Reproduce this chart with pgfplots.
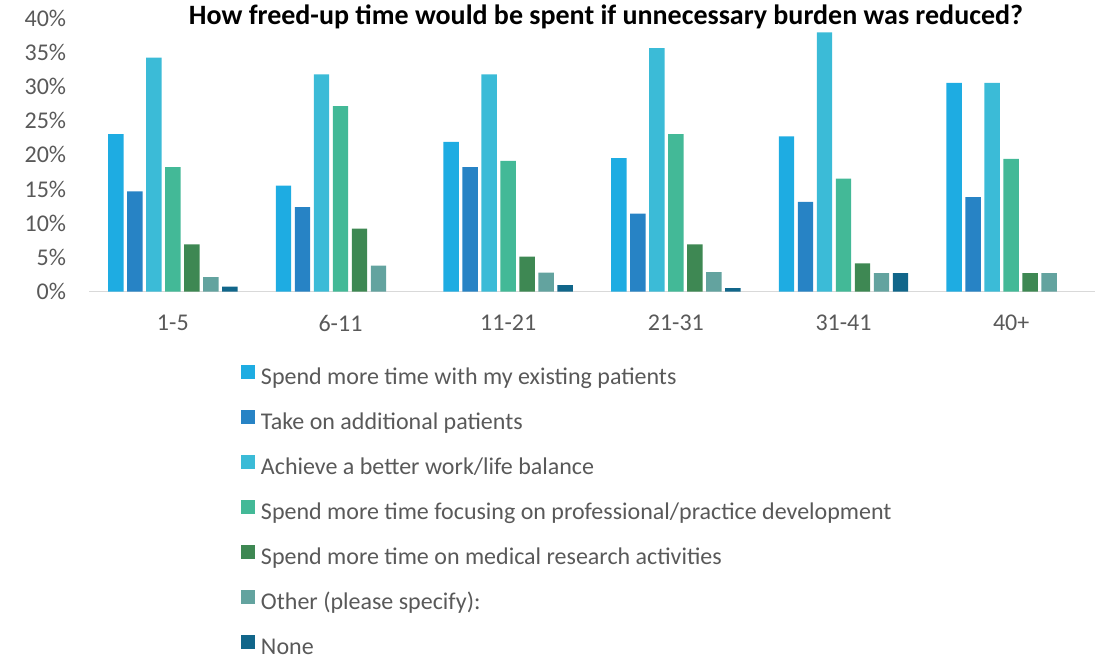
\documentclass[border=0pt]{standalone}
\usepackage{pgfplots}
\pgfplotsset{compat=1.18}
\usepackage{fontspec}
\setmainfont{Carlito}

\definecolor{cExist}{HTML}{1EACE2}
\definecolor{cAdd}{HTML}{2783C5}
\definecolor{cBal}{HTML}{3BBBD7}
\definecolor{cProf}{HTML}{43B997}
\definecolor{cRes}{HTML}{3E8853}
\definecolor{cOther}{HTML}{63A39F}
\definecolor{cNone}{HTML}{11668A}
\definecolor{txtgray}{HTML}{595959}
\definecolor{axgray}{HTML}{D9D9D9}

\begin{document}
\begin{tikzpicture}
% page is 1100 x 654 px at 0.75pt per px
\path[use as bounding box] (0,0) rectangle (825pt,490.5pt);
\node[font=\fontsize{21}{25}\selectfont\bfseries] at (454.5pt,477.75pt)
  {How freed-up time would be spent if unnecessary burden was reduced?};
\begin{axis}[
    at={(66.75pt,271.875pt)}, anchor=south west,
    scale only axis, width=754.5pt, height=205.125pt,
    ybar=2.7pt, bar width=11.55pt,
    xmin=-0.5, xmax=5.5, ymin=0, ymax=40,
    axis x line*=bottom, axis y line*=left,
    x axis line style={draw=axgray, line width=1pt, -},
    y axis line style={draw=none},
    major tick length=0pt,
    xtick=data,
    xticklabels={1-5,6-11,11-21,21-31,31-41,40+},
    ytick={0,5,...,40},
    yticklabels={0\%,5\%,10\%,15\%,20\%,25\%,30\%,35\%,40\%},
    yticklabel style={anchor=east, inner sep=0pt, xshift=-17pt},
    xticklabel style={anchor=north, inner sep=0pt, yshift=-17.5pt},
    tick label style={font=\fontsize{18}{21}\selectfont, text=txtgray},
    every axis plot/.append style={draw=none},
    legend cell align=left,
    legend style={at={(axis description cs:0.1511,-0.2687)}, anchor=north west,
        draw=none, fill=none, inner sep=0pt, outer sep=0pt,
        row sep=16.95pt, column sep=4.5pt,
        font=\fontsize{18}{21}\selectfont, text=txtgray,
        nodes={inner sep=0pt, text height=12.5pt, text depth=2pt}},
    legend image code/.code={\fill[#1] (0pt,-1pt) rectangle (10.5pt,9.5pt);},
]
\addplot[fill=cExist] coordinates {(0,23.0) (1,15.5) (2,21.9) (3,19.5) (4,22.7) (5,30.5)};
\addlegendentry{Spend more time with my existing patients}
\addplot[fill=cAdd] coordinates {(0,14.65) (1,12.35) (2,18.2) (3,11.4) (4,13.1) (5,13.8)};
\addlegendentry{Take on additional patients}
\addplot[fill=cBal] coordinates {(0,34.2) (1,31.75) (2,31.75) (3,35.6) (4,37.9) (5,30.5)};
\addlegendentry{Achieve a better work/life balance}
\addplot[fill=cProf] coordinates {(0,18.2) (1,27.1) (2,19.1) (3,23.0) (4,16.5) (5,19.4)};
\addlegendentry{Spend more time focusing on professional/practice development}
\addplot[fill=cRes] coordinates {(0,6.9) (1,9.2) (2,5.1) (3,6.9) (4,4.1) (5,2.7)};
\addlegendentry{Spend more time on medical research activities}
\addplot[fill=cOther] coordinates {(0,2.1) (1,3.8) (2,2.75) (3,2.85) (4,2.7) (5,2.7)};
\addlegendentry{Other (please specify):}
\addplot[fill=cNone] coordinates {(0,0.7) (2,0.95) (3,0.5) (4,2.7)};
\addlegendentry{None}
\end{axis}
\end{tikzpicture}
\end{document}
